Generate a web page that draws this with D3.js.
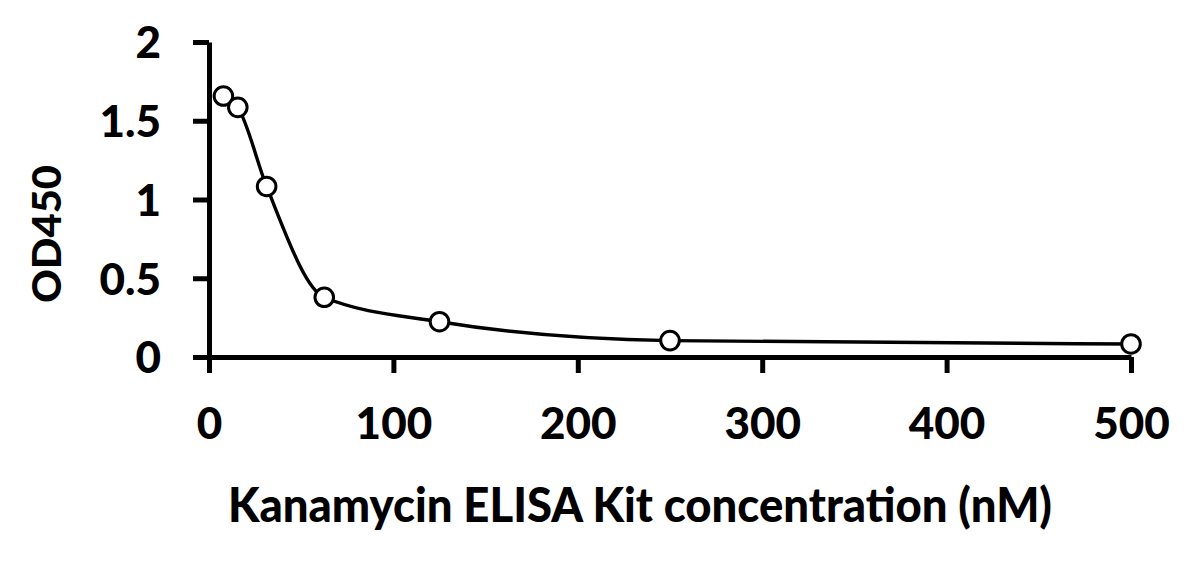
<!DOCTYPE html>
<html>
<head>
<meta charset="utf-8">
<script src="https://cdn.jsdelivr.net/npm/d3@7"></script>
<style>
html,body{margin:0;padding:0;background:#fff;}
svg{display:block;}
text{font-family:Lato,"Open Sans",sans-serif;font-weight:900;fill:#000;}
</style>
</head>
<body>
<svg id="chart" width="1191" height="562"></svg>
<script>
const concentrations = [7.8125, 15.625, 31.25, 62.5, 125, 250, 500];
const od450 = [1.657, 1.585, 1.083, 0.379, 0.224, 0.104, 0.083];
const xTicks = [0, 100, 200, 300, 400, 500];
const yTicks = [0, 0.5, 1, 1.5, 2];
const xTitle = "Kanamycin ELISA Kit concentration (nM)";
const yTitle = "OD450";

const svg = d3.select("#chart");
const x = d3.scaleLinear().domain([0, 500]).range([209, 1131]);
const y = d3.scaleLinear().domain([0, 2]).range([357, 42]);

const xAxis = d3.axisBottom(x).tickValues(xTicks).tickSize(16).tickSizeOuter(0).tickFormat(d3.format("d"));
const yAxis = d3.axisLeft(y).tickValues(yTicks).tickSize(16).tickSizeOuter(0).tickFormat(d => String(d));

const gx = svg.append("g").attr("transform", "translate(0,357)").call(xAxis);
const gy = svg.append("g").attr("transform", "translate(209,0)").call(yAxis);

[gx, gy].forEach(g => {
  g.selectAll(".domain").attr("stroke", "#000").attr("stroke-width", 5);
  g.selectAll(".tick line").attr("stroke", "#000").attr("stroke-width", 5);
  g.selectAll(".tick text").attr("font-family", "Lato").attr("font-weight", 900)
    .attr("font-size", 44).attr("fill", "#000");
});
gx.selectAll(".tick text").attr("y", 0).attr("dy", null).attr("transform", "translate(0,82)");
gy.selectAll(".tick text").attr("x", -48).attr("dy", "0.36em");

const pts = concentrations.map((c, i) => [c, od450[i]]);
const line = d3.line().x(d => x(d[0])).y(d => y(d[1])).curve(d3.curveMonotoneX);
svg.append("path").datum(pts).attr("d", line)
  .attr("fill", "none").attr("stroke", "#000").attr("stroke-width", 3.4);

svg.append("g").selectAll("circle").data(pts).join("circle")
  .attr("cx", d => x(d[0])).attr("cy", d => y(d[1])).attr("r", 9.3)
  .attr("fill", "#fff").attr("stroke", "#000").attr("stroke-width", 3);

svg.append("text").attr("x", 640).attr("y", 522).attr("text-anchor", "middle")
  .attr("font-size", 48).attr("font-weight", 900).attr("textLength", 824).attr("lengthAdjust", "spacingAndGlyphs")
  .text(xTitle);
svg.append("text").attr("transform", "translate(61,234) rotate(-90)").attr("text-anchor", "middle")
  .attr("font-size", 40).attr("font-weight", 900).attr("textLength", 138).attr("lengthAdjust", "spacingAndGlyphs")
  .text(yTitle);
</script>
</body>
</html>
